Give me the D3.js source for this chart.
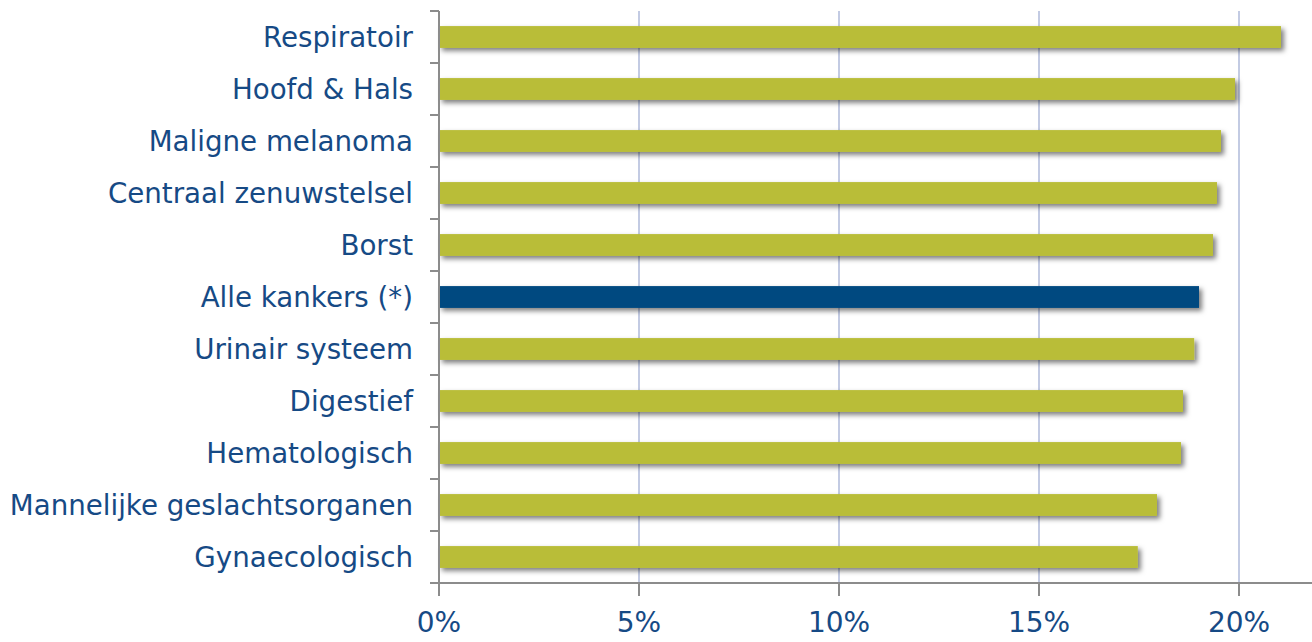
<!DOCTYPE html>
<html><head><meta charset="utf-8">
<script src="https://cdn.jsdelivr.net/npm/d3@7"></script>
<style>html,body{margin:0;padding:0;background:#fff;overflow:hidden}</style>
</head><body>
<svg id="chart" width="1312" height="642"></svg>
<script>
const categories = ["Respiratoir","Hoofd & Hals","Maligne melanoma","Centraal zenuwstelsel","Borst","Alle kankers (*)","Urinair systeem","Digestief","Hematologisch","Mannelijke geslachtsorganen","Gynaecologisch"];
const values = [21.05, 19.9, 19.55, 19.45, 19.35, 19.0, 18.88, 18.6, 18.55, 17.95, 17.47];
const highlighted = ["Alle kankers (*)"];
const xTicks = [0, 5, 10, 15, 20];

const svg = d3.select("#chart");
const x0 = 439, yTop = 11, yBot = 583;
const x = d3.scaleLinear().domain([0, 22]).range([x0, x0 + 880]);
const y = d3.scaleBand().domain(categories).range([yTop, yBot]).paddingInner(0.58).paddingOuter(0.29);
const yEdges = d3.scaleBand().domain(categories).range([yTop, yBot]);

const defs = svg.append("defs");
const f = defs.append("filter").attr("id","shadow").attr("x","-5%").attr("y","-50%").attr("width","110%").attr("height","220%");
f.append("feDropShadow").attr("dx",3).attr("dy",3).attr("stdDeviation",2.5).attr("flood-color","#000").attr("flood-opacity",0.5);

const textColor = "#164a85";
const font = "DejaVu Sans, Verdana, sans-serif";

// grid lines
svg.append("g").selectAll("line").data(xTicks.filter(d => d > 0)).join("line")
  .attr("x1", d => x(d)).attr("x2", d => x(d)).attr("y1", yTop).attr("y2", yBot)
  .attr("stroke", "#c3cbe3").attr("stroke-width", 2);

// bars
svg.append("g").selectAll("rect").data(categories).join("rect")
  .attr("x", x(0)).attr("y", d => y(d))
  .attr("width", (d, i) => x(values[i]) - x(0)).attr("height", y.bandwidth())
  .attr("fill", d => highlighted.includes(d) ? "#004a80" : "#b9bd37")
  .attr("filter", "url(#shadow)");

// y axis
const gy = svg.append("g").attr("stroke", "#8c8c8c").attr("stroke-width", 2);
gy.append("line").attr("x1", x0).attr("x2", x0).attr("y1", yTop).attr("y2", yBot);
const edges = categories.map(c => yEdges(c)).concat([yBot]);
gy.selectAll(".t").data(edges).join("line").attr("class","t")
  .attr("x1", x0 - 9).attr("x2", x0).attr("y1", d => d).attr("y2", d => d);

// y labels
svg.append("g").selectAll("text").data(categories).join("text")
  .attr("x", x0 - 26).attr("y", d => y(d) + y.bandwidth()/2)
  .attr("dy", "0.36em").attr("text-anchor", "end")
  .attr("font-family", font).attr("font-size", 27.7).attr("fill", textColor)
  .text(d => d);

// x axis
const gx = svg.append("g").attr("stroke", "#8c8c8c").attr("stroke-width", 2);
gx.append("line").attr("x1", x0 - 9).attr("x2", 1312).attr("y1", yBot).attr("y2", yBot);
gx.selectAll(".t").data(xTicks).join("line").attr("class","t")
  .attr("x1", d => x(d)).attr("x2", d => x(d)).attr("y1", yBot).attr("y2", yBot + 13);

svg.append("g").selectAll("text").data(xTicks).join("text")
  .attr("x", d => x(d)).attr("y", 632).attr("text-anchor", "middle")
  .attr("font-family", font).attr("font-size", 28).attr("fill", textColor)
  .text(d => d + "%");
</script>
</body></html>
